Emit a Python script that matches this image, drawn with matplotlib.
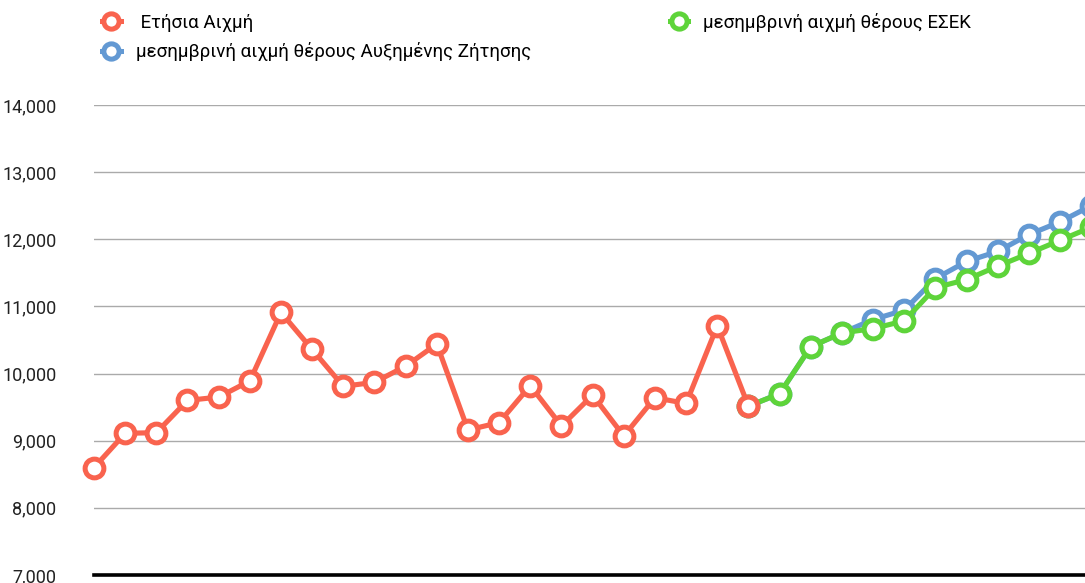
import matplotlib.pyplot as plt
from matplotlib.lines import Line2D
from matplotlib.ticker import FuncFormatter

plt.rcParams["font.family"] = ["Roboto", "DejaVu Sans"]

# annual peak (historical), then two summer-noon projections
annual_peak = [8600, 9110, 9120, 9600, 9650, 9890, 10910, 10360, 9810, 9870,
               10110, 10440, 9160, 9270, 9820, 9220, 9680, 9070, 9640, 9555,
               10710, 9515]
high_demand = [9515, 9700, 10400, 10605, 10805, 10945, 11415, 11670, 11820,
               12070, 12260, 12500]
esek = [9515, 9700, 10400, 10605, 10670, 10785, 11280, 11400, 11600,
        11790, 11985, 12180]
labels = [" Ετήσια Αιχμή",
          "μεσημβρινή αιχμή θέρους Αυξημένης Ζήτησης",
          "μεσημβρινή αιχμή θέρους ΕΣΕΚ"]
yticks = [7000, 8000, 9000, 10000, 11000, 12000, 13000, 14000]

RED, BLUE, GREEN = "#F9634E", "#6399D3", "#5ED43A"

fig = plt.figure(figsize=(10.85, 5.83), dpi=100)
ax = fig.add_axes([94 / 1085, 1 - 575 / 583, 1 - 94 / 1085, (575 - 105) / 583])

x_red = list(range(len(annual_peak)))
start = len(annual_peak) - 1
x_proj = list(range(start, start + len(high_demand)))

style = dict(linewidth=3.7, marker="o", markersize=13.5, markerfacecolor="white",
             markeredgewidth=3.6, clip_on=False)
ax.plot(x_proj, high_demand, color=BLUE, zorder=3, **style)
ax.plot(x_proj, esek, color=GREEN, zorder=4, **style)
ax.plot(x_red, annual_peak, color=RED, zorder=5, **style)

ax.set_xlim(0, 31.8)
ax.set_ylim(7000, 14000)
ax.set_yticks(yticks)
ax.yaxis.set_major_formatter(FuncFormatter(lambda v, p: f"{int(v):,}"))
ax.tick_params(axis="y", length=0, pad=27, labelsize=13, labelcolor="#222222")
ax.set_xticks([])
ax.grid(axis="y", color="#aaaaaa", linewidth=1.0)
ax.set_axisbelow(True)
for s in ["top", "right", "left"]:
    ax.spines[s].set_visible(False)
ax.spines["bottom"].set_linewidth(2.6)
ax.spines["bottom"].set_color("black")
ax.spines["bottom"].set_zorder(2)

handles = [Line2D([], [], color=c, linewidth=3.6, marker="o", markersize=11,
                  markerfacecolor="white", markeredgewidth=3.6)
           for c in (RED, BLUE, GREEN)]
fig.legend(handles, labels, ncol=2, loc="upper left",
           bbox_to_anchor=(85 / 1085, 1 + 4 / 583), frameon=False,
           fontsize=13.5, handlelength=1.0, handletextpad=0.8,
           columnspacing=7.4, labelspacing=0.55)

fig.savefig("out.png", dpi=100)
